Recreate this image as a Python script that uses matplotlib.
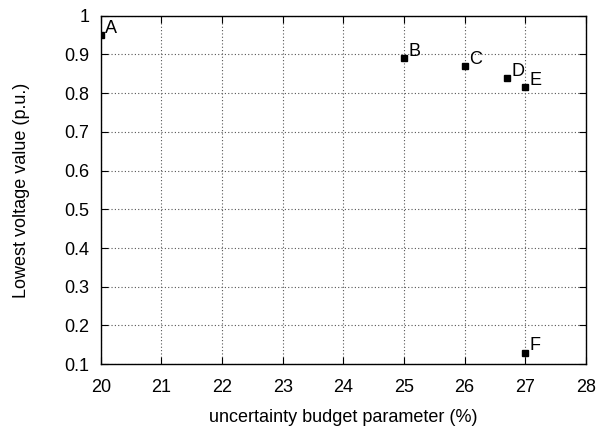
import matplotlib
matplotlib.use("Agg")
import matplotlib.pyplot as plt

# operating points
labels = ["A", "B", "C", "D", "E", "F"]
budget = [20, 25, 26, 26.7, 27, 27]
voltage = [0.95, 0.89, 0.87, 0.84, 0.815, 0.13]

x_ticks = list(range(20, 29))
y_ticks = [0.1, 0.2, 0.3, 0.4, 0.5, 0.6, 0.7, 0.8, 0.9, 1.0]
y_tick_labels = ["0.1", "0.2", "0.3", "0.4", "0.5", "0.6", "0.7", "0.8", "0.9", "1"]

plt.rcParams["font.family"] = ["Liberation Sans", "DejaVu Sans"]
plt.rcParams["font.size"] = 13

fig = plt.figure(figsize=(6.01, 4.33), dpi=100)
ax = fig.add_axes([0.1676, 0.159, 0.8074, 0.8047])

ax.plot(budget, voltage, "s", color="black", markersize=4.5, zorder=3)
for name, x, y in zip(labels, budget, voltage):
    ax.annotate(name, (x, y), xytext=(3, 1.5), textcoords="offset points",
                ha="left", va="baseline", fontsize=13)

ax.set_xlim(20, 28)
ax.set_ylim(0.1, 1.0)
ax.set_xticks(x_ticks)
ax.set_yticks(y_ticks)
ax.set_yticklabels(y_tick_labels)
ax.tick_params(direction="in", top=True, right=True, length=5, width=0.8)
ax.tick_params(axis="x", pad=11)
ax.tick_params(axis="y", pad=8)
ax.grid(True, linestyle=(0, (1, 2)), color="#555555", linewidth=0.8)
ax.set_axisbelow(True)
for s in ax.spines.values():
    s.set_linewidth(1.0)

ax.set_xlabel("uncertainty budget parameter (%)", labelpad=9)
ax.set_ylabel("Lowest voltage value (p.u.)", labelpad=25)

fig.savefig("out.png", dpi=100)
